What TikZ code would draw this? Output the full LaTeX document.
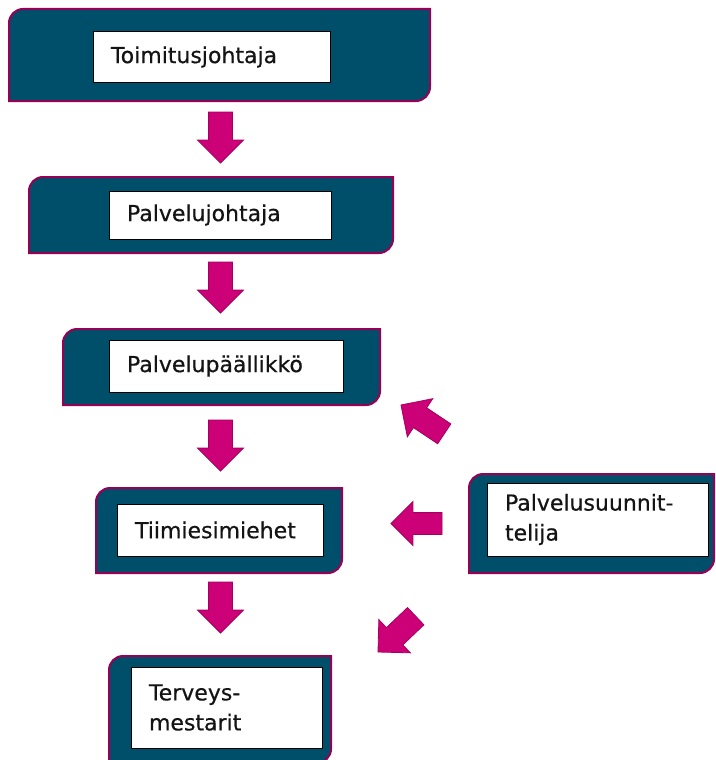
\documentclass[tikz,border=0pt]{standalone}
\usepackage{fontspec}
\setmainfont{DejaVu Sans}
\newfontfamily\boxfont[FakeBold=0.5]{DejaVu Sans}
\usetikzlibrary{shapes.arrows}
\definecolor{teal}{RGB}{0,79,106}
\definecolor{boxborder}{RGB}{150,0,85}
\definecolor{arrowfill}{RGB}{204,0,119}
\definecolor{arrowborder}{RGB}{165,0,95}
\definecolor{txt}{RGB}{20,20,20}
\tikzset{
  outerbox/.style={inner sep=0pt, outer sep=0pt},
  boxline/.style={fill=teal, draw=boxborder, line width=2pt},
  innerbox/.style={fill=white, draw=black, line width=1pt, inner xsep=18pt, inner ysep=0pt,
    align=left, text=txt, font=\boxfont\fontsize{22}{30}\selectfont},
  bigarrow/.style={shape=single arrow, fill=arrowfill, draw=arrowborder, line width=0.8pt,
    minimum height=51pt, single arrow head extend=11pt,
    single arrow head indent=0pt, inner xsep=0pt, inner ysep=11.5pt, outer sep=0pt, anchor=tip}
}
\newcommand\diagshape[1]{%
  \draw[boxline] (#1.south west) -- ([yshift=-14pt]#1.north west)
    arc[start angle=180,end angle=90,radius=14pt] -- (#1.north east)
    -- ([yshift=14pt]#1.south east) arc[start angle=0,end angle=-90,radius=14pt] -- cycle;}
\begin{document}
\begin{tikzpicture}[x=1pt,y=1pt]
\useasboundingbox (0,0) rectangle (715,-760);
% outer boxes
\node[outerbox, minimum width=421pt, minimum height=92pt] (o1) at (219.5,-55) {};
\node[outerbox, minimum width=364pt, minimum height=76pt] (o2) at (211,-215) {};
\node[outerbox, minimum width=317pt, minimum height=76pt] (o3) at (221.5,-367) {};
\node[outerbox, minimum width=246pt, minimum height=85pt] (o4) at (219,-530.5) {};
\node[outerbox, minimum width=222pt, minimum height=107pt] (o5) at (220,-709.5) {};
\node[outerbox, minimum width=245pt, minimum height=99pt] (o6) at (591.5,-523.5) {};
\diagshape{o1}\diagshape{o2}\diagshape{o3}\diagshape{o4}\diagshape{o5}\diagshape{o6}
% inner boxes with text
\node[innerbox, text width=201pt, minimum height=50pt] (i1) at (211.5,-57) {Toimitusjohtaja};
\node[innerbox, text width=186pt, minimum height=48pt] (i2) at (220,-215) {Palvelujohtaja};
\node[innerbox, text width=198pt, minimum height=52pt] (i3) at (226,-366) {Palvelupäällikkö};
\node[innerbox, text width=170pt, minimum height=52pt] (i4) at (220,-530) {Tiimiesimiehet};
\node[innerbox, text width=155pt, minimum height=81pt] (i5) at (226.5,-707.5) {Terveys-\\mestarit};
\node[innerbox, text width=185pt, minimum height=73pt] (i6) at (597.5,-519.5) {Palvelusuunnit-\\telija};
% arrows (placed by their tips)
\node[bigarrow, rotate=-90] (a1) at (220.5,-163) {};
\node[bigarrow, rotate=-90] (a2) at (220.5,-313) {};
\node[bigarrow, rotate=-90] (a3) at (220.5,-471) {};
\node[bigarrow, rotate=-90] (a4) at (220.5,-633) {};
\node[bigarrow, rotate=146.3, minimum height=52pt] (a5) at (401,-405) {};
\node[bigarrow, rotate=180, inner ysep=10.5pt] (a6) at (391,-523.5) {};
\node[bigarrow, rotate=223.5, minimum height=52pt] (a7) at (378,-652) {};
\end{tikzpicture}
\end{document}
